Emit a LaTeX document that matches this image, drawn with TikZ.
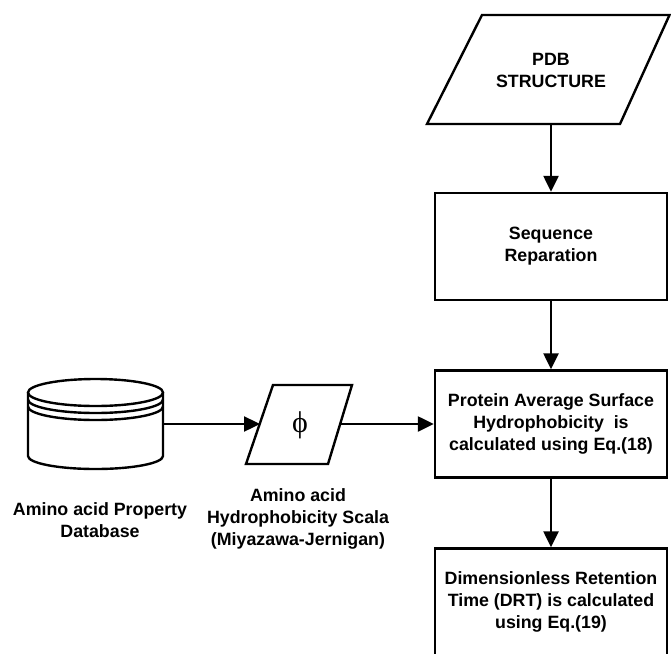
\documentclass[tikz,border=0pt]{standalone}
\usepackage{fontspec}
\setmainfont{Liberation Sans}
\newfontfamily\symserif{Liberation Serif}
\usetikzlibrary{arrows.meta}
\begin{document}
\begin{tikzpicture}[x=1pt,y=-1pt,
  line width=2.4pt,
  txt/.style={font=\fontsize{17.8}{22}\selectfont\bfseries, align=center, inner sep=0pt},
  procbox/.style={draw, minimum width=232pt, minimum height=107pt, txt},
  flow/.style={-{Triangle[width=15pt,length=16pt]}}]
\useasboundingbox (0,0) rectangle (671,653);

% input parallelogram: PDB structure
\draw[line join=miter] (482,15) -- (669.5,15) -- (620,124) -- (427,124) -- cycle;
\node[txt] (pdb) at (551,70) {PDB\\STRUCTURE};
\coordinate (pdbB) at (551,124);

% process boxes
\node[procbox] (seq) at (551,246.5) {Sequence\\Reparation};
\node[procbox] (prot) at (551,424) {Protein Average Surface\\Hydrophobicity~ is\\calculated using Eq.(18)};
\node[procbox] (drt) at (551,602) {Dimensionless Retention\\Time (DRT) is calculated\\using Eq.(19)};

% database cylinder
\draw (95.5,392.5) ellipse [x radius=67.5pt, y radius=13.5pt];
\draw (28,399.5) arc [start angle=180, end angle=360, x radius=67.5pt, y radius=13.5pt];
\draw (28,406.5) arc [start angle=180, end angle=360, x radius=67.5pt, y radius=13.5pt];
\draw (28,392.5) -- (28,456) arc [start angle=180, end angle=360, x radius=67.5pt, y radius=13pt] -- (163,392.5);
\coordinate (dbE) at (163,424);
\node[txt] (dblabel) at (100,520.5) {Amino acid Property\\Database};

% hydrophobicity scale parallelogram
\draw[line join=miter] (273,385) -- (352,385) -- (328,464) -- (246,464) -- cycle;
\node[inner sep=0pt, font=\symserif\fontsize{30}{30}\selectfont] (phi) at (300,425) {ϕ};
\coordinate (phiL) at (260,424);
\coordinate (phiR) at (340,424);
\node[txt] (philabel) at (298,518.5) {Amino acid\\Hydrophobicity Scala\\(Miyazawa-Jernigan)};

% connectors
\draw[flow] (pdbB) -- (seq.north);
\draw[flow] (seq.south) -- (prot.north);
\draw[flow] (prot.south) -- (drt.north);
\draw[flow] (dbE) -- (phiL);
\draw[flow] (phiR) -- (prot.west);
\end{tikzpicture}
\end{document}
